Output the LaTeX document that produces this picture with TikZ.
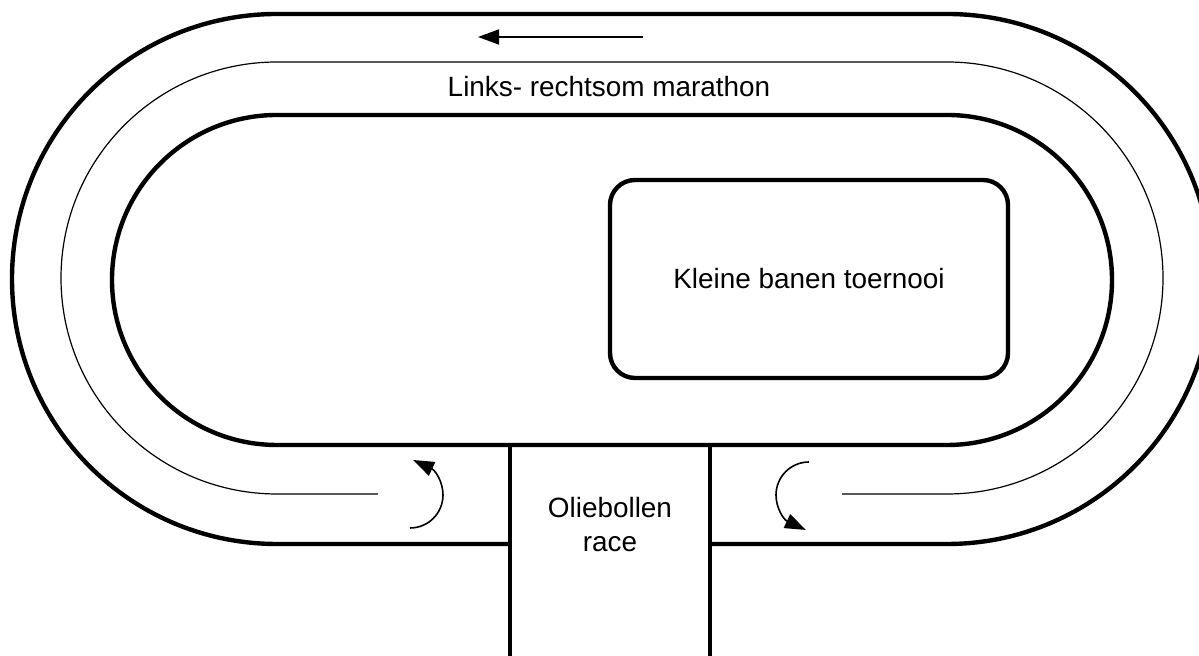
\documentclass[tikz,border=0pt]{standalone}
\usepackage{fontspec}
\setmainfont{Liberation Sans}
\usetikzlibrary{arrows.meta}

\begin{document}
\begin{tikzpicture}[x=0.5pt, y=0.5pt,
        wall/.style={line width=2.2pt},
        lane/.style={line width=0.6pt},
        dir/.style={line width=0.8pt, -{Triangle[length=10.5pt, width=7.5pt]}},
        txt/.style={font=\fontsize{13.95}{17}\selectfont, align=center},
        field/.style={wall, draw, rounded corners=12.5pt, minimum width=199pt, minimum height=99pt}]
        \useasboundingbox (0,0) rectangle (1199,656);
        \clip (0,0) rectangle (1199,656);

        \draw[wall] (510,112) -- (277,112) arc[start angle=270, end angle=90, radius=265]
            -- (947,642) arc[start angle=90, end angle=-90, radius=265] -- (710,112);
        \draw[lane] (378,162) -- (277,162) arc[start angle=270, end angle=90, radius=216]
            -- (947,594) arc[start angle=90, end angle=-90, radius=216] -- (842,162);
        \draw[wall] (277,211) arc[start angle=270, end angle=90, radius=165]
            -- (947,541) arc[start angle=90, end angle=-90, radius=165] -- cycle;
        \foreach \x in {510,710}
            \draw[wall] (\x,211) -- (\x,0);

        \node[field] (kleine) at (809,377) {};
        \node[txt] (kleinetxt) at (kleine.center) {Kleine banen toernooi};
        \node[txt] (marathon) at (609,569) {Links- rechtsom marathon};
        \node[txt] (oliebollen) at (610,131) {Oliebollen\\race};

        \coordinate (topstart) at (643,619);
        \coordinate (topend) at (478,619);
        \draw[dir] (topstart) -- (topend);
        \coordinate (leftstart) at (410,128);
        \draw[dir, shorten >=-6pt] (leftstart) arc[start angle=-90, end angle=65, radius=33];
        \coordinate (rightstart) at (809,194);
        \draw[dir, shorten >=-6pt] (rightstart) arc[start angle=90, end angle=245, radius=33];
    \end{tikzpicture}
\end{document}
